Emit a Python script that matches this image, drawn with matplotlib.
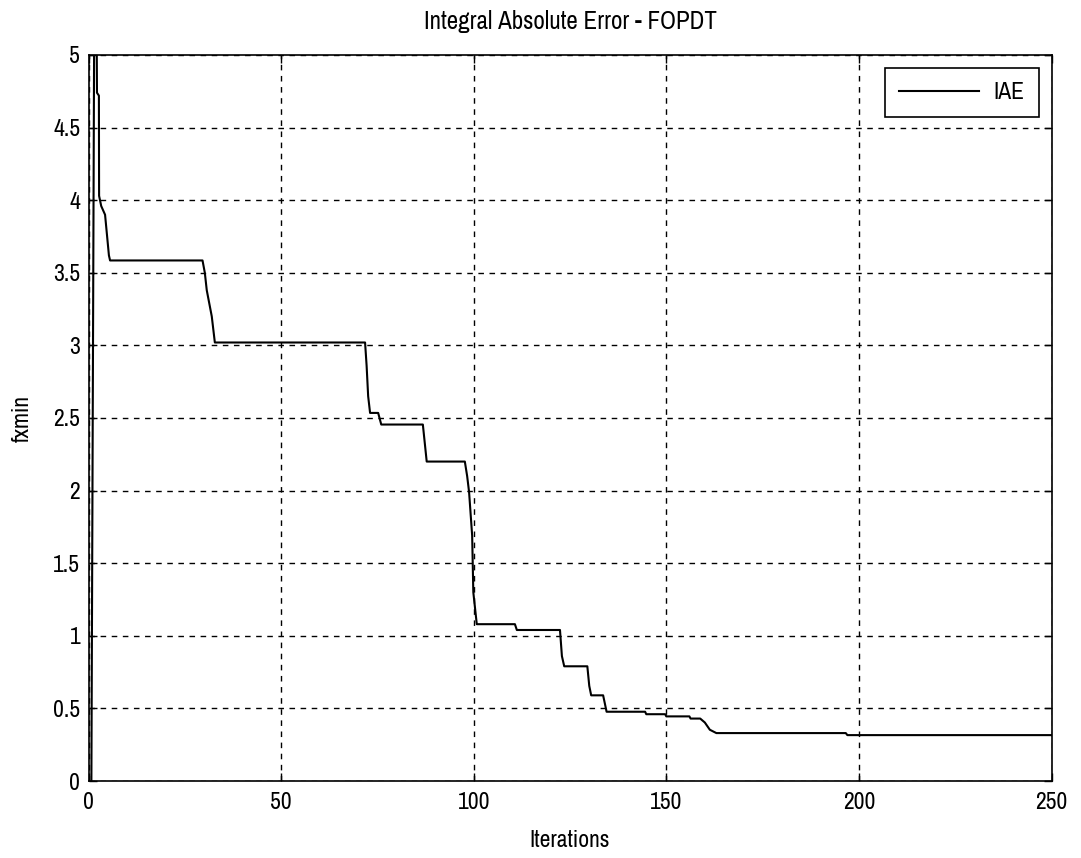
import matplotlib
matplotlib.use("Agg")
import matplotlib.pyplot as plt
from matplotlib import font_manager

# Breakpoints of the best-so-far objective
iterations = [0.75, 1.7, 2.15, 2.2, 2.7, 2.75, 3.3, 4.3, 5.3, 5.6,
              29.6, 30.2, 30.7, 32.0, 32.8,
              71.8, 72.2, 72.6, 73.1, 75.2, 76.0,
              86.8, 87.8, 97.7, 98.3, 98.8, 99.6, 99.9, 100.8,
              110.7, 111.2, 122.4, 122.9, 123.5, 129.5, 130.0, 130.5,
              133.6, 134.5, 144.5, 144.8, 149.7, 150.0, 156.0, 156.3,
              158.8, 160.0, 161.3, 163.0, 196.6, 197.0, 250.0]
fxmin = [0.0, 6.8, 5.0, 4.74, 4.72, 4.03, 3.96, 3.9, 3.62, 3.585,
         3.585, 3.5, 3.38, 3.2, 3.02,
         3.02, 2.86, 2.65, 2.535, 2.535, 2.455,
         2.455, 2.2, 2.2, 2.1, 1.99, 1.69, 1.3, 1.08,
         1.08, 1.04, 1.04, 0.86, 0.79, 0.79, 0.655, 0.59,
         0.59, 0.477, 0.477, 0.46, 0.46, 0.445, 0.445, 0.43,
         0.43, 0.403, 0.353, 0.33, 0.33, 0.316, 0.316]

xticks = [0, 50, 100, 150, 200, 250]
yticks = [0, 0.5, 1, 1.5, 2, 2.5, 3, 3.5, 4, 4.5, 5]
ytick_labels = ["0", "0.5", "1", "1.5", "2", "2.5", "3", "3.5", "4", "4.5", "5"]

# pick a condensed sans font if one is installed
narrow = None
for f in font_manager.fontManager.ttflist:
    n = f.name
    if ('Narrow' in n or 'Condensed' in n) and 'Mono' not in n and 'Serif' not in n:
        narrow = n
        break
if narrow is None:
    for f in font_manager.fontManager.ttflist:
        if f.stretch in ('condensed', 'semi-condensed', 'extra-condensed') or \
           (isinstance(f.stretch, int) and f.stretch < 500):
            if 'Mono' not in f.name and 'Serif' not in f.name:
                narrow = f.name
                break
fams = ([narrow] if narrow else []) + ['Liberation Sans', 'DejaVu Sans']
plt.rcParams['font.family'] = fams
fs = 17 if narrow else 14
fs_title = 18 if narrow else 14

fig = plt.figure(figsize=(10.81, 8.58), dpi=100)
ax = fig.add_axes([88.5 / 1081, 1 - 781 / 858, (1051.5 - 88.5) / 1081, (781 - 55) / 858])

ax.plot(iterations, fxmin, color='black', linewidth=1.5, label='IAE')

ax.set_xlim(0, 250)
ax.set_ylim(0, 5)
ax.set_xticks(xticks)
ax.set_yticks(yticks)
ax.set_yticklabels(ytick_labels)
ax.tick_params(direction='in', length=6, width=1, labelsize=fs, top=True, right=True, color='black')
ax.tick_params(axis='x', pad=8)
ax.tick_params(axis='y', pad=6)

ax.grid(True, color='black', linestyle=(0, (4, 4)), linewidth=1)
for s in ax.spines.values():
    s.set_linewidth(1.2)
    s.set_color('black')

ax.set_title('Integral Absolute Error - FOPDT', fontsize=fs_title, pad=19)
ax.set_xlabel('Iterations', fontsize=fs, labelpad=12)
ax.set_ylabel('fxmin', fontsize=fs, labelpad=15)

leg = ax.legend(loc='upper right', fontsize=fs, fancybox=False, framealpha=1,
                edgecolor='black', handlelength=3.4, borderpad=0.6,
                handletextpad=0.6, borderaxespad=0.55)
leg.get_frame().set_linewidth(1.2)

fig.savefig('out.png', dpi=100)
